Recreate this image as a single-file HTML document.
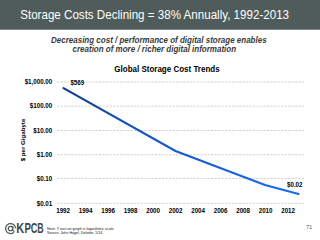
<!DOCTYPE html>
<html><head><meta charset="utf-8">
<style>
html,body{margin:0;padding:0;}
body{width:320px;height:240px;overflow:hidden;background:#fff;position:relative;font-family:"Liberation Sans",sans-serif;}
div{position:absolute;white-space:nowrap;line-height:1;}
.hdr{left:0;top:0;width:320px;height:29px;background:#4f5c5a;}
.hdr2{left:0;top:29px;width:320px;height:1px;background:#7e8886;}
.title{left:20.2px;top:9.4px;color:#fff;font-size:11.6px;transform-origin:0 5.7px;transform:scaleY(1.06);}
.sub{font-size:8px;font-weight:bold;font-style:italic;color:#3a3a3a;transform-origin:0 5.5px;transform:scaleY(1.12);}
.ct{left:114.3px;top:65.5px;font-size:8px;font-weight:bold;color:#000;transform-origin:0 6.77px;transform:scaleY(1.1);}
.yl{right:267.8px;font-size:6.2px;font-weight:bold;color:#000;transform-origin:0 3.03px;transform:scaleY(1.12);}
.xl{font-size:6.2px;font-weight:bold;color:#000;width:30px;text-align:center;transform-origin:0 3.03px;transform:scaleY(1.12);}
.ylab{left:23.4px;top:139.6px;transform:translate(-50%,-50%) rotate(-90deg);font-size:6.15px;font-weight:bold;}
.note{left:47.4px;top:226.9px;font-size:7.28px;color:#111;line-height:7.5px;transform-origin:0 0;transform:scale(0.5);}
.pg{left:306.2px;top:225.2px;font-size:5.3px;color:#555;}
</style></head><body>
<div class="hdr"></div><div class="hdr2"></div>
<div class="title">Storage Costs Declining = 38% Annually, 1992-2013</div>
<div class="sub" style="left:51px;top:36.7px">Decreasing cost / performance of digital storage enables</div>
<div class="sub" style="left:72.5px;top:45.8px">creation of more / richer digital information</div>
<div class="ct">Global Storage Cost Trends</div>
<svg style="position:absolute;left:0;top:0" width="320" height="240">
<g stroke="#d2d2d2" stroke-width="1" stroke-dasharray="2.3,1.2">
<line x1="57" y1="82" x2="304" y2="82"/>
<line x1="57" y1="106.2" x2="304" y2="106.2"/>
<line x1="57" y1="130.5" x2="304" y2="130.5"/>
<line x1="57" y1="154.7" x2="304" y2="154.7"/>
<line x1="57" y1="178.4" x2="304" y2="178.4"/>
<line x1="57" y1="203.3" x2="304" y2="203.3"/>
</g>
<rect x="68.8" y="78" width="17" height="8" fill="#fff"/>
<defs><linearGradient id="lg" gradientUnits="userSpaceOnUse" x1="63" y1="0" x2="300" y2="0"><stop offset="0" stop-color="#0e3885"/><stop offset="0.3" stop-color="#1554be"/><stop offset="1" stop-color="#1a6aee"/></linearGradient></defs>
<polyline fill="none" stroke="url(#lg)" stroke-width="2.1" stroke-linejoin="round" stroke-linecap="round" points="63.5,88.2 175.5,151 265,185.1 298.6,193.9"/>
</svg>
<div class="yl" style="top:79.3px">$1,000.00</div>
<div class="yl" style="top:103.3px">$100.00</div>
<div class="yl" style="top:127.6px">$10.00</div>
<div class="yl" style="top:151.9px">$1.00</div>
<div class="yl" style="top:176.4px">$0.10</div>
<div class="yl" style="top:200.8px">$0.01</div>
<div class="ylab">$ per Gigabyte</div>
<div class="xl" style="left:48.1px;top:207.8px">1992</div>
<div class="xl" style="left:70.6px;top:207.8px">1994</div>
<div class="xl" style="left:93.1px;top:207.8px">1996</div>
<div class="xl" style="left:115.6px;top:207.8px">1998</div>
<div class="xl" style="left:138.1px;top:207.8px">2000</div>
<div class="xl" style="left:160.6px;top:207.8px">2002</div>
<div class="xl" style="left:183.1px;top:207.8px">2004</div>
<div class="xl" style="left:205.6px;top:207.8px">2006</div>
<div class="xl" style="left:228.1px;top:207.8px">2008</div>
<div class="xl" style="left:250.6px;top:207.8px">2010</div>
<div class="xl" style="left:273.1px;top:207.8px">2012</div>
<div class="yl" style="left:70.4px;right:auto;top:79.5px">$569</div>
<div class="yl" style="left:287px;right:auto;top:182.1px">$0.02</div>
<svg style="position:absolute;left:0;top:216.4px" width="50" height="24">
<g fill="none" stroke="#55605e" stroke-width="1.25">
<path d="M14,16.2 A5,5 0 1 1 15.6,12.4"/>
<circle cx="10.5" cy="12.5" r="2.2"/>
<path d="M12.8,10 V13.8 Q13,15.6 14.6,14.8"/>
</g>
<g fill="#3f4a48" font-family="Liberation Sans" font-weight="bold" font-size="13.8">
<text transform="translate(16.3,17.2) scale(0.8,1)">K</text>
<text transform="translate(24.6,17.2) scale(0.7,1)">P</text>
<text transform="translate(30.8,17.2) scale(0.66,1)">C</text>
<text transform="translate(37.2,17.2) scale(0.64,1)">B</text>
</g>
</svg>
<div class="note">Note: Y axis on graph is logarithmic scale.<br>Source: John Hagel, Deloitte, 5/14</div>
<div class="pg">71</div>
</body></html>
